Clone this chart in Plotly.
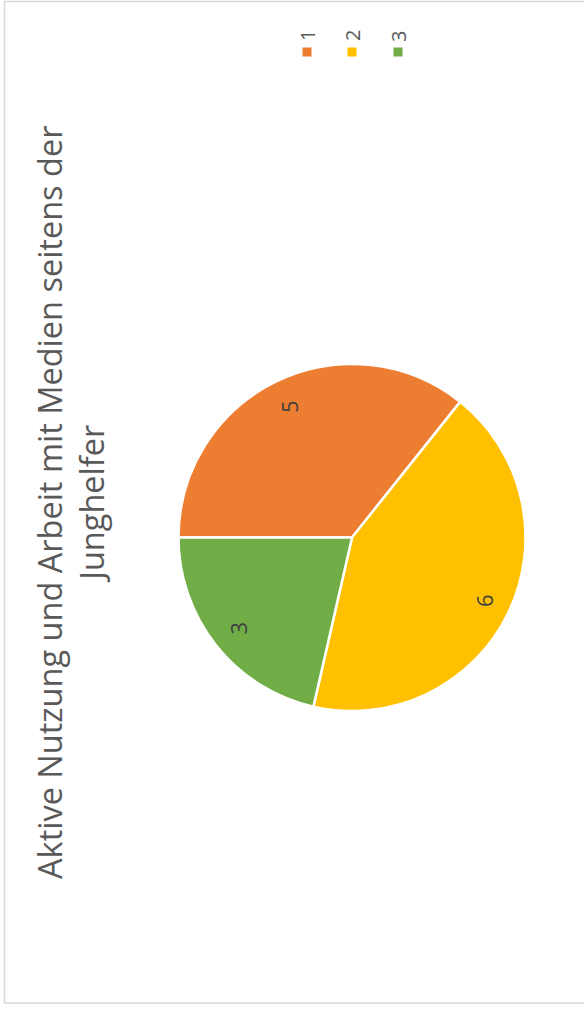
import math
import plotly.graph_objects as go

# ---- data ----
categories = ["1", "2", "3"]
values = [5, 6, 3]
colors = ["#ED7D31", "#FFC000", "#70AD47"]
title_line1 = "Aktive Nutzung und Arbeit mit Medien seitens der"
title_line2 = "Junghelfer"

W, H = 584, 1012
FONT = "Open Sans"
TXT = "#595959"

# pie geometry (pixels, from top-left)
cx, cy, r = 352, 537.5, 173.5

def px(x):
    return x / W

def py(y):
    return 1 - y / H

fig = go.Figure()
fig.add_trace(go.Pie(
    labels=categories,
    values=values,
    sort=False,
    direction="clockwise",
    rotation=-90,
    marker=dict(colors=colors, line=dict(color="white", width=2.5)),
    textinfo="none",
    hoverinfo="label+value",
    showlegend=False,
    domain=dict(x=[px(cx - r), px(cx + r)], y=[py(cy + r), py(cy - r)]),
))

annotations = []
# data labels, rotated like the reference
total = sum(values)
cum = 0
for v in values:
    mid = 180 - 360 * (cum + v / 2) / total
    cum += v
    lx = cx + 0.84 * r * math.cos(math.radians(mid))
    ly = cy - 0.84 * r * math.sin(math.radians(mid))
    annotations.append(dict(
        x=px(lx), y=py(ly), xref="paper", yref="paper",
        text=str(v), showarrow=False, textangle=-90,
        font=dict(family=FONT, size=22, color="#404040"),
        xanchor="center", yanchor="middle",
    ))

# title (rotated)
annotations.append(dict(
    x=px(70), y=py(503), xref="paper", yref="paper",
    text=title_line1 + "<br>" + title_line2,
    showarrow=False, textangle=-90,
    font=dict(family=FONT, size=32.5, color=TXT),
    xanchor="center", yanchor="middle", align="center",
))

# legend (rotated)
shapes = []
leg_x = [307, 352, 398]
for lx, c, lab in zip(leg_x, colors, categories):
    shapes.append(dict(
        type="rect", xref="paper", yref="paper",
        x0=px(lx - 4.5), x1=px(lx + 4.5), y0=py(56.5), y1=py(47.5),
        fillcolor=c, line=dict(width=0),
    ))
    annotations.append(dict(
        x=px(lx), y=py(36), xref="paper", yref="paper",
        text=lab, showarrow=False, textangle=-90,
        font=dict(family=FONT, size=20, color=TXT),
        xanchor="center", yanchor="middle",
    ))

# chart border
shapes.append(dict(
    type="rect", xref="paper", yref="paper",
    x0=px(4.5), x1=px(W + 10), y0=py(1003), y1=py(1.5),
    line=dict(color="#D9D9D9", width=1.5), fillcolor="rgba(0,0,0,0)",
))

fig.update_layout(
    width=W, height=H, autosize=False,
    margin=dict(l=0, r=0, t=0, b=0),
    paper_bgcolor="white", plot_bgcolor="white",
    annotations=annotations, shapes=shapes,
)
fig.write_html(
    "out.html",
    config={"displayModeBar": False},
    post_script="document.body.style.margin='0';document.body.style.overflow='hidden';",
)
